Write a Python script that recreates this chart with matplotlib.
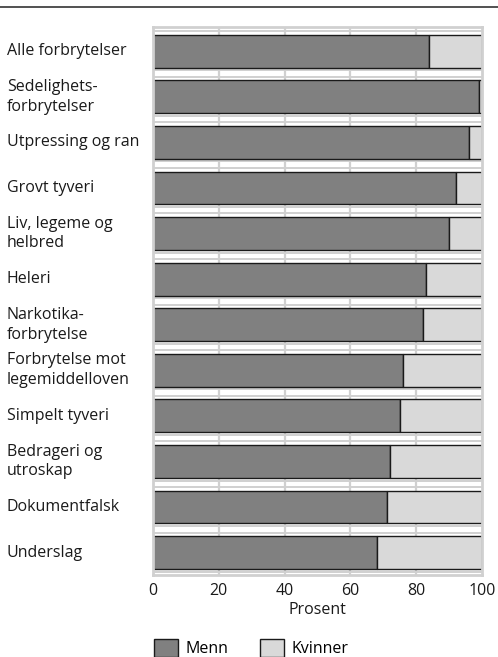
import numpy as np
import matplotlib
matplotlib.use("Agg")
import matplotlib.pyplot as plt
from matplotlib.transforms import blended_transform_factory

plt.rcParams['font.family'] = ['Open Sans', 'DejaVu Sans']

# data (percent of convicted persons)
categories = ["Alle forbrytelser", "Sedelighets-\nforbrytelser", "Utpressing og ran",
              "Grovt tyveri", "Liv, legeme og\nhelbred", "Heleri",
              "Narkotika-\nforbrytelse", "Forbrytelse mot\nlegemiddelloven",
              "Simpelt tyveri", "Bedrageri og\nutroskap", "Dokumentfalsk", "Underslag"]
menn = [84, 99, 96, 92, 90, 83, 82, 76, 75, 72, 71, 68]
kvinner = [100 - m for m in menn]
xticks = [0, 20, 40, 60, 80, 100]

W, H = 498, 657
fs = 11.5
fig = plt.figure(figsize=(W / 100, H / 100), dpi=100)
ax = fig.add_axes([153 / W, 1 - 575 / H, (482 - 153) / W, (575 - 27) / H])

y = np.arange(len(categories))
grid_c = "#d0d0d0"

# background grid
for xv in xticks[1:-1]:
    ax.axvline(xv, color=grid_c, lw=1.6, zorder=0)
for i in range(len(categories) - 1):
    ax.axhline(i + 0.42, color=grid_c, lw=1.4, zorder=0)
    ax.axhline(i + 0.56, color=grid_c, lw=1.4, zorder=0)
ax.axhline(-0.44, color=grid_c, lw=1.4, zorder=0)
ax.axhline(len(categories) - 1 + 0.42, color=grid_c, lw=1.4, zorder=0)

b1 = ax.barh(y, menn, height=0.72, color="#808080", edgecolor="#1a1a1a", lw=1.0, label="Menn", zorder=2)
b2 = ax.barh(y, kvinner, left=menn, height=0.72, color="#d9d9d9", edgecolor="#1a1a1a", lw=1.0, label="Kvinner", zorder=2)

ax.set_xlim(0, 100)
ax.set_ylim(11.49, -0.53)
ax.set_xticks(xticks)
ax.set_yticks([])
ax.tick_params(axis="x", length=0, labelsize=fs, colors="#1a1a1a", pad=6)
for s in ax.spines.values():
    s.set_color(grid_c)
    s.set_linewidth(2)
ax.set_xlabel("Prosent", fontsize=fs, color="#1a1a1a", labelpad=2)

trans = blended_transform_factory(fig.transFigure, ax.transData)
for yi, lab in zip(y, categories):
    ax.text(7 / W, yi, lab, transform=trans, ha="left", va="center",
            fontsize=fs, color="#1a1a1a", linespacing=1.3)

# top rule
fig.add_artist(plt.Line2D([0, 1], [1 - 7 / H, 1 - 7 / H], color="#333333", lw=1.2))

fig.legend(handles=[b1, b2], loc="center left", bbox_to_anchor=(154 / W, 1 - 648 / H),
           ncol=2, frameon=False, fontsize=fs, handlelength=1.5, handleheight=1.4,
           handletextpad=0.45, columnspacing=2.0, borderaxespad=0, borderpad=0)

fig.savefig("out.png", dpi=100)
